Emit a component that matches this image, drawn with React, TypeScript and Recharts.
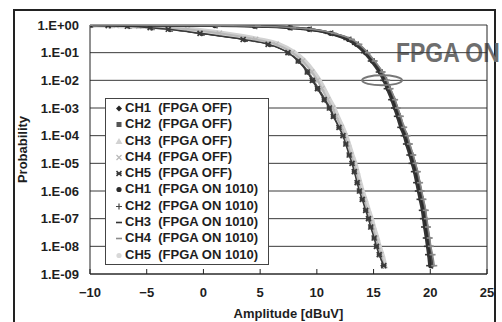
import React from 'react'
import { ComposedChart, Scatter, XAxis, YAxis, CartesianGrid, ReferenceLine, ReferenceDot } from 'recharts'

// probability levels shared by every series (y values)
const probLevels = [
  0.99, 0.95, 0.9, 0.8, 0.7, 0.5, 0.3, 0.2, 0.1, 0.05, 0.02, 0.01,
  5e-3, 2e-3, 1e-3, 5e-4, 2e-4, 1e-4, 5e-5, 2e-5, 1e-5, 5e-6, 2e-6, 1e-6,
  5e-7, 2e-7, 1e-7, 5e-8, 2e-8, 1e-8, 5e-9, 2e-9
]

// amplitude [dBuV] at which each channel reaches the level above
const ch1OffAmp = [-10, -8.3, -6.6, -4.6, -3.0, -0.2, 3.6, 5.8, 7.5, 8.4, 9.2, 9.65, 10.1, 10.7, 11.15, 11.5, 12.0, 12.35, 12.6, 12.9, 13.15, 13.35, 13.6, 13.8, 14.05, 14.35, 14.6, 14.8, 15.1, 15.3, 15.55, 15.85]
const ch2OffAmp = [-10, -8.2, -6.5, -4.5, -2.9, -0.1, 3.7, 5.9, 7.55, 8.45, 9.25, 9.7, 10.15, 10.75, 11.2, 11.55, 12.05, 12.4, 12.65, 12.95, 13.2, 13.4, 13.65, 13.85, 14.1, 14.4, 14.65, 14.85, 15.15, 15.35, 15.6, 15.95]
const ch3OffAmp = [-9.8, -7.5, -5.5, -3.0, -1.2, 1.6, 4.8, 6.6, 8.0, 8.9, 9.7, 10.2, 10.6, 11.1, 11.5, 11.8, 12.25, 12.55, 12.8, 13.1, 13.35, 13.55, 13.8, 14.0, 14.25, 14.55, 14.8, 15.0, 15.3, 15.5, 15.75, 16.0]
const ch4OffAmp = [-9.9, -7.7, -5.7, -3.2, -1.4, 1.4, 4.6, 6.4, 7.85, 8.75, 9.55, 10.05, 10.45, 10.95, 11.4, 11.7, 12.15, 12.45, 12.7, 13.0, 13.25, 13.45, 13.7, 13.9, 14.15, 14.45, 14.7, 14.9, 15.2, 15.4, 15.65, 15.9]
const ch5OffAmp = [-10, -8.4, -6.7, -4.7, -3.1, -0.3, 3.5, 5.7, 7.45, 8.35, 9.15, 9.6, 10.05, 10.65, 11.1, 11.45, 11.95, 12.3, 12.55, 12.85, 13.1, 13.3, 13.55, 13.75, 14.0, 14.3, 14.55, 14.75, 15.05, 15.25, 15.5, 15.9]
const ch1OnAmp = [-10, 1.0, 4.5, 7.6, 9.3, 11.2, 12.8, 13.5, 14.3, 14.9, 15.6, 16.0, 16.3, 16.7, 16.95, 17.2, 17.5, 17.8, 18.0, 18.3, 18.5, 18.7, 18.9, 19.05, 19.2, 19.4, 19.5, 19.6, 19.75, 19.85, 19.95, 20.05]
const ch2OnAmp = [-10, 1.2, 4.7, 7.8, 9.5, 11.4, 13.0, 13.65, 14.45, 15.05, 15.75, 16.15, 16.45, 16.85, 17.1, 17.35, 17.65, 17.95, 18.15, 18.45, 18.65, 18.85, 19.05, 19.2, 19.35, 19.55, 19.65, 19.75, 19.9, 20.0, 20.1, 20.2]
const ch3OnAmp = [-10, 0.8, 4.3, 7.4, 9.1, 11.0, 12.6, 13.35, 14.15, 14.75, 15.45, 15.85, 16.15, 16.55, 16.8, 17.05, 17.35, 17.65, 17.85, 18.15, 18.35, 18.55, 18.75, 18.9, 19.05, 19.25, 19.35, 19.45, 19.6, 19.7, 19.8, 19.9]
const ch4OnAmp = [-10, 1.3, 4.8, 7.9, 9.6, 11.5, 13.1, 13.75, 14.5, 15.1, 15.8, 16.2, 16.5, 16.9, 17.15, 17.4, 17.7, 18.0, 18.2, 18.5, 18.7, 18.9, 19.1, 19.25, 19.4, 19.6, 19.7, 19.8, 19.95, 20.05, 20.2, 20.35]
const ch5OnAmp = [-10, 1.1, 4.6, 7.7, 9.4, 11.3, 12.9, 13.55, 14.35, 14.95, 15.65, 16.05, 16.35, 16.75, 17.0, 17.25, 17.55, 17.85, 18.05, 18.35, 18.55, 18.75, 18.95, 19.1, 19.25, 19.45, 19.55, 19.65, 19.8, 19.9, 20.0, 20.1]

const xTicks = [-10, -5, 0, 5, 10, 15, 20, 25]
const xTickLabels = ['\u221210', '\u22125', '0', '5', '10', '15', '20', '25']
const yTicks = [1, 1e-1, 1e-2, 1e-3, 1e-4, 1e-5, 1e-6, 1e-7, 1e-8, 1e-9]
const yTickLabels = ['1.E+00', '1.E-01', '1.E-02', '1.E-03', '1.E-04', '1.E-05', '1.E-06', '1.E-07', '1.E-08', '1.E-09']

// annotation: ellipse round the FPGA ON curves
const ellipseAmp = 15.75
const ellipseProb = 0.01

const FONT = '"Liberation Sans", Arial, sans-serif'

type MarkerKind = 'diamond' | 'square' | 'triangle' | 'x' | 'xbold' | 'circle' | 'plus' | 'dash'

const series = [
  { name: 'CH1', mode: 'FPGA OFF', amp: ch1OffAmp, marker: 'diamond', color: '#262626', width: 1.5 },
  { name: 'CH2', mode: 'FPGA OFF', amp: ch2OffAmp, marker: 'square', color: '#555555', width: 1.5 },
  { name: 'CH3', mode: 'FPGA OFF', amp: ch3OffAmp, marker: 'triangle', color: '#d2d2d2', width: 5 },
  { name: 'CH4', mode: 'FPGA OFF', amp: ch4OffAmp, marker: 'x', color: '#b8b8b8', width: 2 },
  { name: 'CH5', mode: 'FPGA OFF', amp: ch5OffAmp, marker: 'xbold', color: '#3a3a3a', width: 1.5 },
  { name: 'CH1', mode: 'FPGA ON 1010', amp: ch1OnAmp, marker: 'circle', color: '#2a2a2a', width: 3 },
  { name: 'CH2', mode: 'FPGA ON 1010', amp: ch2OnAmp, marker: 'plus', color: '#444444', width: 2 },
  { name: 'CH3', mode: 'FPGA ON 1010', amp: ch3OnAmp, marker: 'dash', color: '#333333', width: 2 },
  { name: 'CH4', mode: 'FPGA ON 1010', amp: ch4OnAmp, marker: 'dash', color: '#8a8a8a', width: 1.5 },
  { name: 'CH5', mode: 'FPGA ON 1010', amp: ch5OnAmp, marker: 'circle', color: '#d8d8d8', width: 1.5 },
]

// CH5 ON is drawn underneath the other ON channels
const drawOrder = [0, 1, 2, 3, 4, 9, 5, 6, 7, 8]

function marker(kind: MarkerKind, color: string, cx: number, cy: number) {
  switch (kind) {
    case 'diamond':
      return <path d={`M${cx} ${cy - 3}L${cx + 3} ${cy}L${cx} ${cy + 3}L${cx - 3} ${cy}Z`} fill={color} />
    case 'square':
      return <rect x={cx - 2.5} y={cy - 2.5} width={5} height={5} fill={color} />
    case 'triangle':
      return <path d={`M${cx} ${cy - 3.5}L${cx + 3.5} ${cy + 2.5}L${cx - 3.5} ${cy + 2.5}Z`} fill={color} />
    case 'x':
      return <path d={`M${cx - 2.5} ${cy - 2.5}L${cx + 2.5} ${cy + 2.5}M${cx + 2.5} ${cy - 2.5}L${cx - 2.5} ${cy + 2.5}`} stroke={color} strokeWidth={1.2} />
    case 'xbold':
      return <path d={`M${cx - 2.5} ${cy - 2.5}L${cx + 2.5} ${cy + 2.5}M${cx + 2.5} ${cy - 2.5}L${cx - 2.5} ${cy + 2.5}M${cx - 2.5} ${cy}L${cx + 2.5} ${cy}`} stroke={color} strokeWidth={1.6} />
    case 'circle':
      return <circle cx={cx} cy={cy} r={2.6} fill={color} />
    case 'plus':
      return <path d={`M${cx - 3} ${cy}L${cx + 3} ${cy}M${cx} ${cy - 3}L${cx} ${cy + 3}`} stroke={color} strokeWidth={1.2} />
    case 'dash':
      return <path d={`M${cx - 3} ${cy}L${cx + 3} ${cy}`} stroke={color} strokeWidth={1.6} />
  }
  return null
}

function XTick(props: any) {
  const { x, y, payload } = props
  const i = xTicks.indexOf(payload.value)
  return (
    <g>
      <line x1={x} x2={x} y1={y - 5} y2={y} stroke="#222" strokeWidth={1} />
      <text x={x} y={y + 23} textAnchor="middle" fontFamily={FONT} fontWeight="bold" fontSize={13} fill="#1e1e1e">
        {xTickLabels[i]}
      </text>
    </g>
  )
}

export default function App() {
  const tables = series.map((s) => s.amp.map((a, i) => ({ x: a, p: probLevels[i] })))

  return (
    <div style={{ position: 'absolute', left: 0, top: 0, width: 502, height: 322, overflow: 'hidden', background: '#fff' }}>
      {/* outer chart frame */}
      <div style={{ position: 'absolute', left: 13, top: 9, width: 483, height: 340, border: '2px solid #222', boxSizing: 'border-box' }} />
      <div
        style={{
          position: 'absolute', left: 396, top: 39, fontFamily: FONT, fontWeight: 'bold', fontSize: 28,
          lineHeight: '28px', color: '#6e6e6e', whiteSpace: 'nowrap',
          transform: 'scaleX(0.82)', transformOrigin: 'left top',
        }}
      >
        FPGA ON
      </div>
      <div style={{ position: 'absolute', left: 0, top: 0 }}>
        <ComposedChart width={502} height={322} margin={{ top: 25, right: 15, bottom: 0, left: 0 }}>
          <CartesianGrid vertical={false} stroke="#3a3a3a" />
          <XAxis
            type="number"
            dataKey="x"
            domain={[-10, 25]}
            ticks={xTicks}
            allowDataOverflow
            height={48}
            tickSize={0}
            tickMargin={0}
            tickLine={false}
            axisLine={{ stroke: '#222' }}
            tick={XTick}
            interval={0}
            label={{
              value: 'Amplitude [dBuV]', position: 'insideBottom', offset: 4,
              style: { fontFamily: FONT, fontWeight: 'bold', fontSize: 13, fill: '#1e1e1e' },
            }}
          />
          <YAxis
            type="number"
            dataKey="p"
            scale="log"
            domain={[1e-9, 1]}
            ticks={yTicks}
            allowDataOverflow
            interval={0}
            width={90}
            tickLine={false}
            tickMargin={5}
            axisLine={{ stroke: '#222' }}
            tickFormatter={(v: number) => yTickLabels[yTicks.indexOf(v)]}
            tick={{ fontFamily: FONT, fontWeight: 'bold', fontSize: 13, fill: '#1e1e1e' }}
            label={{
              value: 'Probability', angle: -90, position: 'insideLeft', offset: 22,
              style: { textAnchor: 'middle', fontFamily: FONT, fontWeight: 'bold', fontSize: 13, fill: '#1e1e1e' },
            }}
          />
          <ReferenceLine x={25} stroke="#222" />
          {drawOrder.map((k) => {
            const s = series[k]
            return (
              <Scatter
                key={k}
                name={`${s.name} (${s.mode})`}
                data={tables[k]}
                fill={s.color}
                line={{ stroke: s.color, strokeWidth: s.width }}
                lineType="joint"
                lineJointType="monotoneX"
                shape={(p: any) => marker(s.marker as MarkerKind, s.color, p.cx, p.cy)}
                isAnimationActive={false}
              />
            )
          })}
          <ReferenceDot
            x={ellipseAmp}
            y={ellipseProb}
            r={0}
            shape={(p: any) => <ellipse cx={p.cx} cy={p.cy} rx={20} ry={5} fill="none" stroke="#777" strokeWidth={2} />}
          />
        </ComposedChart>
      </div>
      {/* legend */}
      <div
        style={{
          position: 'absolute', left: 105, top: 98, width: 164, height: 167, boxSizing: 'border-box',
          border: '1px solid #444', background: '#fff', paddingTop: 1,
        }}
      >
        {series.map((s, i) => (
          <div key={i} style={{ position: 'relative', height: 16.3 }}>
            <svg width={12} height={16} style={{ position: 'absolute', left: 7, top: 0 }}>
              {marker(s.marker as MarkerKind, s.color, 6, 8.5)}
            </svg>
            <span
              style={{
                position: 'absolute', left: 19, top: 0, lineHeight: '16.3px', fontFamily: FONT,
                fontWeight: 'bold', fontSize: 13, color: '#1e1e1e', whiteSpace: 'pre',
              }}
            >
              {`${s.name}  (${s.mode})`}
            </span>
          </div>
        ))}
      </div>
    </div>
  )
}
